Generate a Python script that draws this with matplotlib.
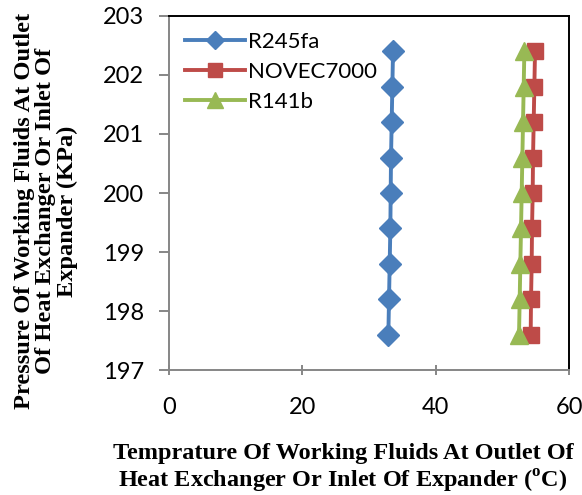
import matplotlib
matplotlib.use("Agg")
import matplotlib.pyplot as plt

pressure = [197.6, 198.2, 198.8, 199.4, 200.0, 200.6, 201.2, 201.8, 202.4]
temp_r245fa = [32.9, 33.0, 33.1, 33.2, 33.25, 33.3, 33.4, 33.5, 33.6]
temp_novec = [54.25, 54.3, 54.4, 54.45, 54.55, 54.6, 54.7, 54.8, 54.9]
temp_r141b = [52.5, 52.6, 52.7, 52.8, 52.9, 53.0, 53.1, 53.2, 53.3]
series_names = ["R245fa", "NOVEC7000", "R141b"]
x_ticks = [0, 20, 40, 60]
y_ticks = [197, 198, 199, 200, 201, 202, 203]

tick_font = "Lato"
label_font = "Liberation Serif"

plt.rcParams["mathtext.fontset"] = "custom"
plt.rcParams["mathtext.rm"] = "Liberation Serif:bold"

fig = plt.figure(figsize=(5.82, 4.95), dpi=100)
ax = fig.add_axes([0.2904, 0.2525, 0.6873, 0.7152])

ax.plot(temp_r245fa, pressure, color="#4A7EBB", lw=2.8, marker="D", ms=11, label=series_names[0])
ax.plot(temp_novec, pressure, color="#BE4B48", lw=2.8, marker="s", ms=12, label=series_names[1])
ax.plot(temp_r141b, pressure, color="#98B954", lw=2.8, marker="^", ms=13, label=series_names[2])

ax.set_xlim(0, 60)
ax.set_ylim(197, 203)
ax.set_xticks(x_ticks)
ax.set_yticks(y_ticks)
for lab in ax.get_xticklabels() + ax.get_yticklabels():
    lab.set_fontfamily(tick_font)
    lab.set_fontsize(17)

ax.spines["left"].set_color("#868686")
ax.spines["bottom"].set_color("#868686")
ax.spines["top"].set_color("black")
ax.spines["right"].set_color("black")
for s in ax.spines.values():
    s.set_linewidth(1.4)
ax.tick_params(axis="y", direction="out", length=7, color="#868686", width=1.4, pad=11)
ax.tick_params(axis="x", direction="inout", length=7, color="#868686", width=1.4, pad=16)

fig.text(343 / 582, 1 - 488 / 495,
         "Temprature Of Working Fluids At Outlet Of\nHeat Exchanger Or Inlet Of Expander ($^{\\mathrm{o}}$C)",
         fontfamily=label_font, fontweight="bold", fontsize=17.5, linespacing=1.2,
         ha="center", va="baseline", multialignment="center")
fig.text(46 / 582, 1 - 211 / 495,
         "Pressure Of Working Fluids At Outlet\nOf Heat Exchanger Or Inlet Of\nExpander (KPa)",
         fontfamily=label_font, fontweight="bold", fontsize=17.6, linespacing=1.0,
         ha="center", va="center", rotation=90, multialignment="center")

leg = ax.legend(loc="upper left", frameon=False, prop={"family": tick_font, "size": 16},
                handlelength=2.7, handletextpad=0.15, borderaxespad=0.3, labelspacing=0.45,
                markerscale=0.85)

fig.savefig("out.png", dpi=100)
